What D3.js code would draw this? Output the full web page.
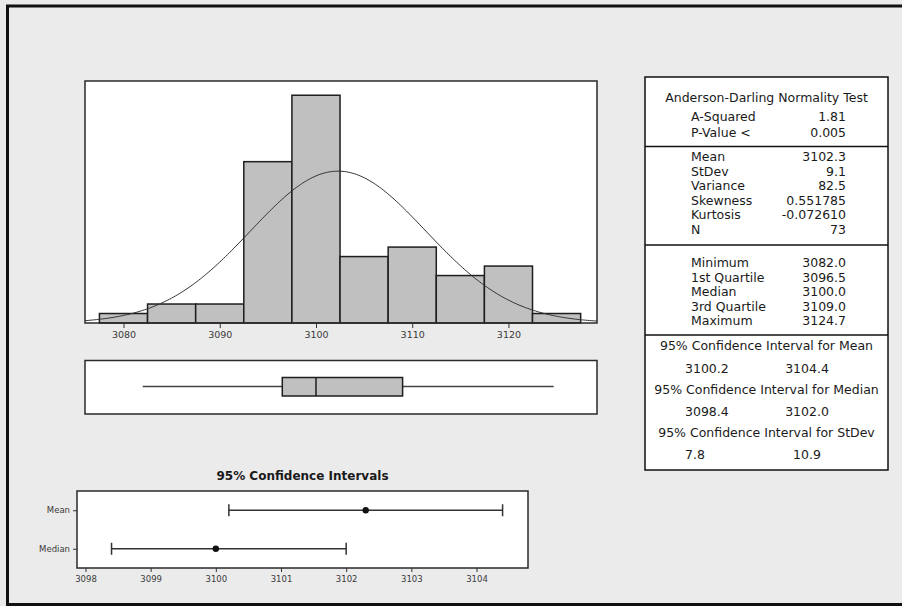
<!DOCTYPE html>
<html>
<head>
<meta charset="utf-8">
<script src="https://cdn.jsdelivr.net/npm/d3@7"></script>
<style>
  body { margin: 0; background: #ebebeb; }
  svg text { font-family: "DejaVu Sans", Verdana, sans-serif; }
</style>
</head>
<body>
<div id="chart"></div>
<script>
// Histogram data (bins of width 5 centred on these values)
var binCenters = [3080, 3085, 3090, 3095, 3100, 3105, 3110, 3115, 3120, 3125];
var binCounts = [1, 2, 2, 17, 24, 7, 8, 5, 6, 1];
var histTicks = [3080, 3090, 3100, 3110, 3120];

// Summary statistics
var boxStats = [3082.0, 3096.5, 3100.0, 3109.0, 3124.7]; // min, q1, median, q3, max
var fitMean = 3102.3;
var fitStDev = 9.1;
var sampleN = 73;

// Confidence intervals
var ciNames = ["Mean", "Median"];
var ciLow = [3100.2, 3098.4];
var ciHigh = [3104.4, 3102.0];
var ciCentre = [3102.3, 3100.0];
var ciTicks = [3098, 3099, 3100, 3101, 3102, 3103, 3104];

// Table text
var adLabels = ["A-Squared", "P-Value <"];
var adValues = ["1.81", "0.005"];
var momentLabels = ["Mean", "StDev", "Variance", "Skewness", "Kurtosis", "N"];
var momentValues = ["3102.3", "9.1", "82.5", "0.551785", "-0.072610", "73"];
var quartileLabels = ["Minimum", "1st Quartile", "Median", "3rd Quartile", "Maximum"];
var quartileValues = ["3082.0", "3096.5", "3100.0", "3109.0", "3124.7"];
var ciTitles = ["95% Confidence Interval for Mean", "95% Confidence Interval for Median", "95% Confidence Interval for StDev"];
var ciPairs = [["3100.2", "3104.4"], ["3098.4", "3102.0"], ["7.8", "10.9"]];

var W = 902, H = 606;
var svg = d3.select("#chart").append("svg")
    .attr("width", W)
    .attr("height", H);

svg.append("rect").attr("x", 0).attr("y", 0).attr("width", W).attr("height", H).attr("fill", "#ebebeb");

// outer frame (top, left, bottom)
svg.append("path")
    .attr("d", "M" + W + ",6 L7.5,6 L7.5,604.5 L" + W + ",604.5")
    .attr("fill", "none")
    .attr("stroke", "#111")
    .attr("stroke-width", 3);

var textCol = "#3a3a3a";

// ---------- Histogram ----------
var hx0 = 85, hx1 = 597, hy0 = 81, hy1 = 323;
var x = d3.scaleLinear().domain([3076.0, 3129.2]).range([hx0, hx1]);
var y = d3.scaleLinear().domain([0, 25.5]).range([hy1, hy0]);

svg.append("rect")
    .attr("x", hx0).attr("y", hy0)
    .attr("width", hx1 - hx0).attr("height", hy1 - hy0)
    .attr("fill", "white");

svg.append("clipPath").attr("id", "hclip")
  .append("rect").attr("x", hx0).attr("y", hy0).attr("width", hx1 - hx0).attr("height", hy1 - hy0);

svg.selectAll(".bar")
    .data(binCenters)
    .enter().append("rect")
    .attr("class", "bar")
    .attr("x", function(d) { return x(d - 2.5); })
    .attr("y", function(d, i) { return y(binCounts[i]); })
    .attr("width", function(d) { return x(d + 2.5) - x(d - 2.5); })
    .attr("height", function(d, i) { return y(0) - y(binCounts[i]); })
    .attr("fill", "#c0c0c0")
    .attr("stroke", "#1e1e1e")
    .attr("stroke-width", 1.5);

// fitted normal curve, scaled to counts
var binWidth = 5;
var curveX = d3.range(3076.0, 3129.3, 0.2);
var curve = d3.line()
    .x(function(d) { return x(d); })
    .y(function(d) {
        var z = (d - fitMean) / fitStDev;
        return y(sampleN * binWidth * Math.exp(-0.5 * z * z) / (fitStDev * Math.sqrt(2 * Math.PI)));
    });
svg.append("path")
    .datum(curveX)
    .attr("d", curve)
    .attr("clip-path", "url(#hclip)")
    .attr("fill", "none")
    .attr("stroke", "#333")
    .attr("stroke-width", 1);

svg.append("rect")
    .attr("x", hx0).attr("y", hy0)
    .attr("width", hx1 - hx0).attr("height", hy1 - hy0)
    .attr("fill", "none")
    .attr("stroke", "#2a2a2a")
    .attr("stroke-width", 1.5);

var hAxis = svg.append("g")
    .attr("transform", "translate(0," + hy1 + ")")
    .call(d3.axisBottom(x).tickValues(histTicks).tickSize(5).tickPadding(3).tickFormat(d3.format("d")));
hAxis.select(".domain").remove();
hAxis.selectAll("line").attr("stroke", "#333");
hAxis.selectAll("text").attr("fill", textCol).style("font-size", "9.5px");

// ---------- Boxplot ----------
var bx0 = 85, bx1 = 597, by0 = 360.5, by1 = 414;
var bmid = 386.5;
svg.append("rect")
    .attr("x", bx0).attr("y", by0)
    .attr("width", bx1 - bx0).attr("height", by1 - by0)
    .attr("fill", "white")
    .attr("stroke", "#2a2a2a")
    .attr("stroke-width", 1.5);
svg.append("line")
    .attr("x1", x(boxStats[0])).attr("x2", x(boxStats[1]))
    .attr("y1", bmid).attr("y2", bmid)
    .attr("stroke", "#444").attr("stroke-width", 1.5);
svg.append("line")
    .attr("x1", x(boxStats[3])).attr("x2", x(boxStats[4]))
    .attr("y1", bmid).attr("y2", bmid)
    .attr("stroke", "#444").attr("stroke-width", 1.5);
svg.append("rect")
    .attr("x", x(boxStats[1])).attr("y", 377.5)
    .attr("width", x(boxStats[3]) - x(boxStats[1])).attr("height", 18.5)
    .attr("fill", "#c0c0c0")
    .attr("stroke", "#1e1e1e")
    .attr("stroke-width", 1.5);
svg.append("line")
    .attr("x1", x(boxStats[2])).attr("x2", x(boxStats[2]))
    .attr("y1", 377.5).attr("y2", 396)
    .attr("stroke", "#1e1e1e").attr("stroke-width", 1.5);

// ---------- Confidence interval plot ----------
var cx0 = 77, cx1 = 528, cy0 = 491, cy1 = 568;
var cx = d3.scaleLinear().domain([3097.87, 3104.79]).range([cx0, cx1]);
var cy = d3.scalePoint().domain(ciNames).range([cy0, cy1]).padding(0.5);

svg.append("text")
    .attr("x", (cx0 + cx1) / 2)
    .attr("y", 476)
    .attr("dy", "0.35em")
    .attr("text-anchor", "middle")
    .attr("fill", "#1a1a1a")
    .style("font-size", "12px")
    .style("font-weight", "bold")
    .text("95% Confidence Intervals");

svg.append("rect")
    .attr("x", cx0).attr("y", cy0)
    .attr("width", cx1 - cx0).attr("height", cy1 - cy0)
    .attr("fill", "white")
    .attr("stroke", "#2a2a2a")
    .attr("stroke-width", 1.5);

var cxAxis = svg.append("g")
    .attr("transform", "translate(0," + cy1 + ")")
    .call(d3.axisBottom(cx).tickValues(ciTicks).tickSize(4).tickPadding(4).tickFormat(d3.format("d")));
cxAxis.select(".domain").remove();
cxAxis.selectAll("line").attr("stroke", "#333");
cxAxis.selectAll("text").attr("fill", textCol).style("font-size", "8.5px");

var cyAxis = svg.append("g")
    .attr("transform", "translate(" + cx0 + ",0)")
    .call(d3.axisLeft(cy).tickSize(4).tickPadding(3));
cyAxis.select(".domain").remove();
cyAxis.selectAll("line").attr("stroke", "#333");
cyAxis.selectAll("text").attr("fill", textCol).style("font-size", "8.5px");

var ci = svg.selectAll(".ci")
    .data(ciNames)
    .enter().append("g")
    .attr("class", "ci");
ci.append("line")
    .attr("x1", function(d, i) { return cx(ciLow[i]); })
    .attr("x2", function(d, i) { return cx(ciHigh[i]); })
    .attr("y1", function(d) { return cy(d); })
    .attr("y2", function(d) { return cy(d); })
    .attr("stroke", "#333").attr("stroke-width", 1.5);
ci.append("line")
    .attr("x1", function(d, i) { return cx(ciLow[i]); })
    .attr("x2", function(d, i) { return cx(ciLow[i]); })
    .attr("y1", function(d) { return cy(d) - 6; })
    .attr("y2", function(d) { return cy(d) + 6; })
    .attr("stroke", "#333").attr("stroke-width", 1.5);
ci.append("line")
    .attr("x1", function(d, i) { return cx(ciHigh[i]); })
    .attr("x2", function(d, i) { return cx(ciHigh[i]); })
    .attr("y1", function(d) { return cy(d) - 6; })
    .attr("y2", function(d) { return cy(d) + 6; })
    .attr("stroke", "#333").attr("stroke-width", 1.5);
ci.append("circle")
    .attr("cx", function(d, i) { return cx(ciCentre[i]); })
    .attr("cy", function(d) { return cy(d); })
    .attr("r", 3.2)
    .attr("fill", "#111");

// ---------- Summary table ----------
var tx0 = 645, tx1 = 888, ty0 = 77, ty1 = 470;
var labelX = 691, valueX = 846, midX = (tx0 + tx1) / 2;
var tsize = "12.5px";
var tcol = "#1a1a1a";

svg.append("rect")
    .attr("x", tx0).attr("y", ty0)
    .attr("width", tx1 - tx0).attr("height", ty1 - ty0)
    .attr("fill", "white")
    .attr("stroke", "#111")
    .attr("stroke-width", 1.5);

function sep(yy) {
    svg.append("line")
        .attr("x1", tx0).attr("x2", tx1)
        .attr("y1", yy).attr("y2", yy)
        .attr("stroke", "#111").attr("stroke-width", 1.5);
}
function put(txt, xx, yy, anchor) {
    svg.append("text")
        .attr("x", xx).attr("y", yy)
        .attr("dy", "0.35em")
        .attr("text-anchor", anchor)
        .attr("fill", tcol)
        .style("font-size", tsize)
        .text(txt);
}
function block(labels, values, yStart, step) {
    for (var i = 0; i < labels.length; i++) {
        put(labels[i], labelX, yStart + i * step, "start");
        put(values[i], valueX, yStart + i * step, "end");
    }
}

put("Anderson-Darling Normality Test", midX, 98, "middle");
block(adLabels, adValues, 117, 16);
sep(146.5);
block(momentLabels, momentValues, 157, 14.5);
sep(245);
block(quartileLabels, quartileValues, 263, 14.5);
sep(335);
var ciRowY = [346, 390, 433];
var ciValY = [368.5, 411.5, 455];
for (var k = 0; k < ciTitles.length; k++) {
    put(ciTitles[k], midX, ciRowY[k], "middle");
    put(ciPairs[k][0], 685, ciValY[k], "start");
    put(ciPairs[k][1], 807, ciValY[k], "middle");
}
</script>
</body>
</html>
